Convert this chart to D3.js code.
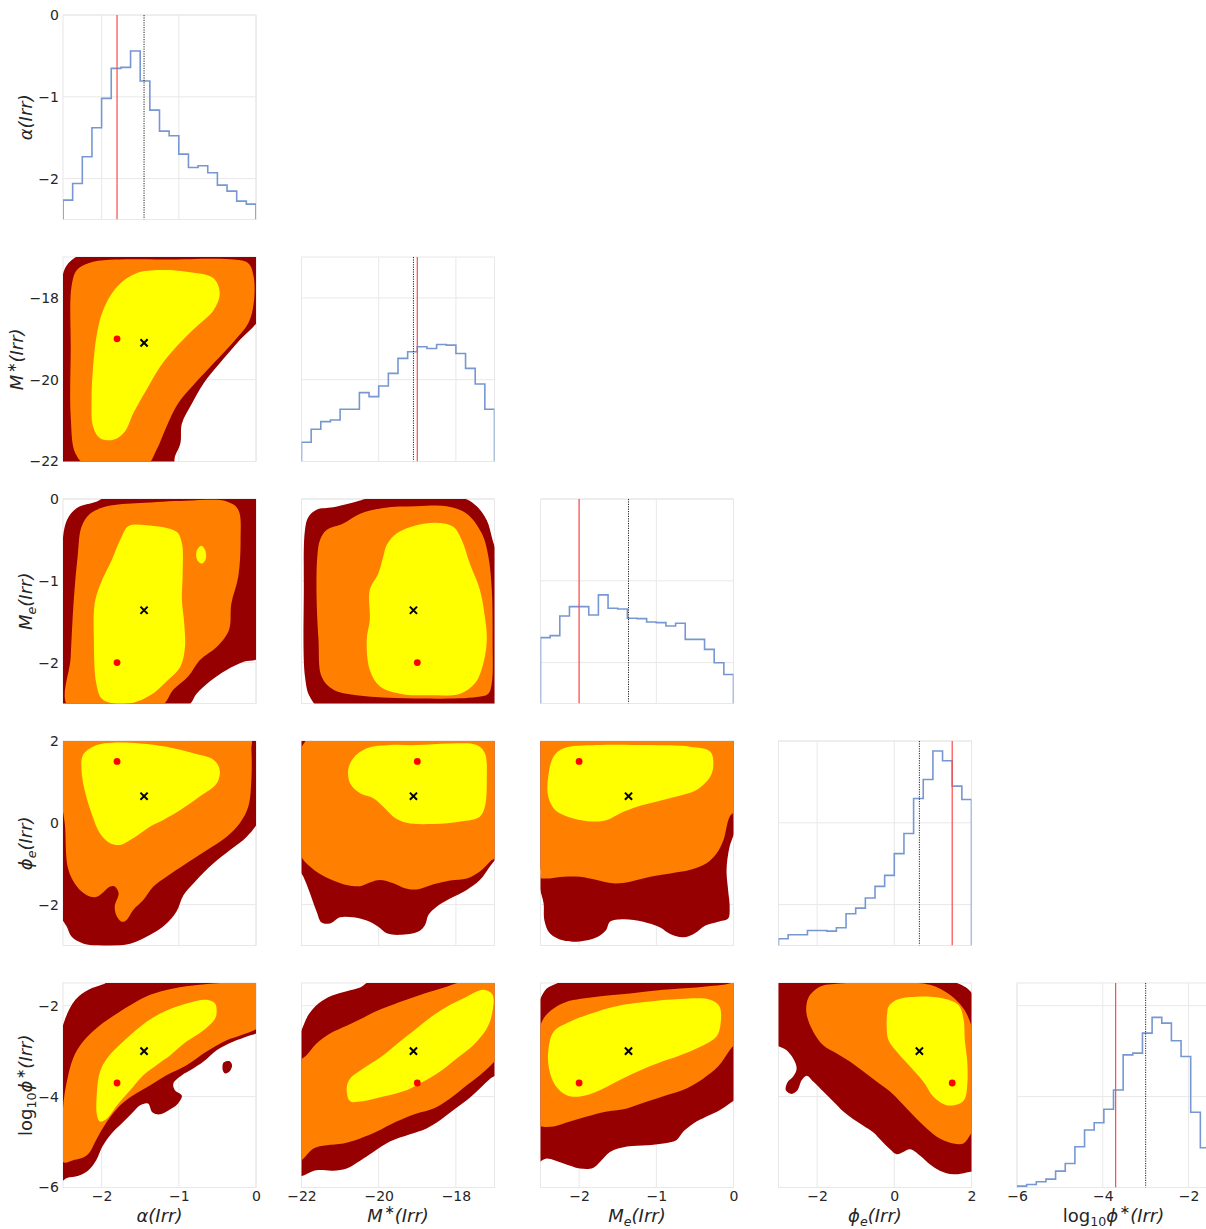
<!DOCTYPE html>
<html><head><meta charset="utf-8">
<script src="https://cdn.jsdelivr.net/npm/d3@7"></script>
<style>body{margin:0;background:#fff;} svg text{font-family:"DejaVu Sans",sans-serif;fill:#262626;}</style>
</head><body><svg id="c" width="1206" height="1229"></svg>
<script>
// ---------------- data ----------------
const params = ["alpha", "Mstar", "Me", "phie", "logphi"];
const domains = [[-2.5, 0], [-22, -17], [-2.5, 0], [-3, 2], [-6, -1.5]];
const ticks = [[-2, -1, 0], [-22, -20, -18], [-2, -1, 0], [-2, 0, 2], [-6, -4, -2]];
const truth = [-1.8, -19.0, -2.0, 1.5, -3.7];
const median = [-1.45, -19.1, -1.36, 0.65, -3.0];

// 1D histograms (20 bins across each axis range)
const hist0 = [58,108,188,275,363,453,456,505,415,328,265,251,196,156,161,140,103,85,55,46];
const hist1 = [58,97,120,125,157,157,207,195,227,265,310,330,345,340,352,350,325,280,233,157];
const hist2 = [197,203,262,290,290,265,325,285,283,255,254,244,242,232,240,192,192,162,122,87];
const hist3 = [20,32,32,45,45,43,53,95,112,142,177,210,275,335,440,497,582,553,477,437];
const hist4 = [4,9,17,25,49,72,122,172,194,234,292,397,402,462,509,492,439,392,225,119];
const histTop = [613, 615, 612, 612, 612];

// 2D credible-region outlines [x, y] in data units: outer (dark red), middle (orange), inner (yellow)
const p10_dark = [[-2.52,-22.21],[-2.52,-17.64],[-2.45,-17.20],[-2.28,-16.95],[-2.02,-16.87],[0.05,-16.87],[0.05,-18.46],[-0.21,-19.03],[-0.47,-19.60],[-0.68,-20.09],[-0.83,-20.58],[-0.96,-21.07],[-0.98,-21.56],[-1.05,-21.88],[-1.09,-22.21]];
const p10_orange = [[-2.39,-17.73],[-2.32,-17.32],[-2.17,-17.15],[-1.89,-17.07],[-1.16,-17.06],[-0.29,-17.06],[-0.10,-17.15],[-0.03,-17.48],[-0.03,-18.13],[-0.10,-18.62],[-0.29,-19.07],[-0.55,-19.60],[-0.81,-20.13],[-1.01,-20.58],[-1.16,-21.15],[-1.29,-21.72],[-1.42,-22.09],[-2.19,-22.09],[-2.34,-21.80],[-2.40,-20.90],[-2.40,-19.27]];
const p10_yellow = [[-1.24,-17.32],[-0.90,-17.36],[-0.55,-17.52],[-0.47,-17.89],[-0.55,-18.30],[-0.77,-18.70],[-1.03,-19.19],[-1.24,-19.68],[-1.42,-20.25],[-1.59,-20.82],[-1.70,-21.27],[-1.85,-21.47],[-2.02,-21.43],[-2.11,-21.15],[-2.13,-20.50],[-2.11,-19.68],[-2.06,-18.87],[-1.98,-18.30],[-1.80,-17.73],[-1.55,-17.40]];

const p20_dark = [[-2.54,-2.58],[-2.52,-0.70],[-2.45,-0.26],[-2.32,-0.11],[-2.06,-0.03],[-1.89,0.05],[0.05,0.05],[0.05,-1.93],[-0.16,-1.99],[-0.38,-2.09],[-0.60,-2.23],[-0.77,-2.38],[-0.90,-2.54]];
const p20_orange = [[-2.43,-2.54],[-2.40,-1.93],[-2.36,-1.23],[-2.31,-0.70],[-2.26,-0.34],[-2.15,-0.18],[-1.93,-0.09],[-1.50,-0.05],[-0.90,-0.02],[-0.38,-0.03],[-0.23,-0.13],[-0.20,-0.50],[-0.23,-0.95],[-0.32,-1.28],[-0.35,-1.60],[-0.51,-1.81],[-0.73,-1.97],[-0.88,-2.17],[-1.07,-2.33],[-1.24,-2.54]];
const p20_yellow = [[-1.65,-0.33],[-1.42,-0.32],[-1.03,-0.40],[-0.96,-0.54],[-0.95,-0.91],[-0.96,-1.23],[-0.93,-1.52],[-0.92,-1.81],[-0.98,-2.05],[-1.16,-2.23],[-1.37,-2.40],[-1.59,-2.49],[-1.85,-2.50],[-2.00,-2.44],[-2.07,-2.25],[-2.10,-1.72],[-2.09,-1.28],[-2.02,-1.05],[-1.87,-0.75],[-1.76,-0.50]];
const p20_yellowIsland = [[-0.71,-0.57],[-0.66,-0.62],[-0.65,-0.73],[-0.70,-0.79],[-0.76,-0.75],[-0.77,-0.64]];

const p21_dark = [[-21.94,-1.11],[-21.91,-0.38],[-21.82,-0.22],[-21.61,-0.13],[-21.18,-0.10],[-20.57,-0.03],[-20.23,0.01],[-17.81,0.01],[-17.46,-0.09],[-17.20,-0.26],[-17.05,-0.50],[-16.94,-0.70],[-16.94,-2.58],[-21.43,-2.58],[-21.78,-2.42],[-21.91,-2.17]];
const p21_orange = [[-21.59,-0.70],[-21.52,-0.50],[-21.35,-0.38],[-20.92,-0.30],[-20.48,-0.18],[-19.88,-0.11],[-19.02,-0.09],[-18.24,-0.09],[-17.72,-0.18],[-17.33,-0.42],[-17.16,-0.70],[-17.07,-1.11],[-17.05,-1.72],[-17.07,-2.25],[-17.16,-2.38],[-17.46,-2.42],[-18.84,-2.44],[-20.57,-2.40],[-21.18,-2.33],[-21.48,-2.17],[-21.56,-1.72],[-21.61,-1.19]];
const p21_yellow = [[-19.79,-0.56],[-19.53,-0.42],[-19.02,-0.32],[-18.50,-0.29],[-18.07,-0.34],[-17.85,-0.50],[-17.64,-0.79],[-17.38,-1.11],[-17.25,-1.44],[-17.20,-1.72],[-17.29,-2.01],[-17.50,-2.25],[-17.89,-2.38],[-18.67,-2.40],[-19.45,-2.38],[-19.97,-2.29],[-20.23,-2.09],[-20.31,-1.72],[-20.23,-1.48],[-20.23,-1.11],[-20.01,-0.91],[-19.88,-0.70]];

const p30_dark = [[-2.56,2.11],[0.05,2.11],[0.05,0.15],[-0.12,-0.34],[-0.34,-0.67],[-0.55,-0.99],[-0.79,-1.44],[-0.94,-1.77],[-1.03,-2.17],[-1.18,-2.50],[-1.37,-2.74],[-1.63,-2.96],[-1.93,-3.01],[-2.24,-2.95],[-2.39,-2.78],[-2.45,-2.54],[-2.52,-2.30],[-2.56,-0.99]];
const p30_orange = [[-2.47,2.11],[-0.08,2.11],[-0.06,1.78],[-0.06,1.05],[-0.10,0.39],[-0.21,-0.01],[-0.38,-0.34],[-0.64,-0.67],[-0.90,-0.99],[-1.16,-1.32],[-1.33,-1.56],[-1.46,-1.89],[-1.59,-2.13],[-1.68,-2.38],[-1.74,-2.42],[-1.80,-2.30],[-1.83,-2.05],[-1.78,-1.72],[-1.83,-1.56],[-1.89,-1.56],[-2.06,-1.81],[-2.19,-1.77],[-2.32,-1.56],[-2.43,-1.15],[-2.47,-0.18]];
const p30_yellow = [[-2.24,1.66],[-2.06,1.90],[-1.85,1.96],[-1.50,1.94],[-1.16,1.86],[-0.81,1.70],[-0.55,1.54],[-0.47,1.29],[-0.51,0.96],[-0.73,0.64],[-0.98,0.31],[-1.20,0.07],[-1.37,-0.09],[-1.50,-0.26],[-1.63,-0.42],[-1.76,-0.54],[-1.89,-0.50],[-2.02,-0.26],[-2.13,0.23],[-2.22,0.80],[-2.26,1.29]];

const p31_dark = [[-22.13,2.11],[-16.86,2.11],[-16.86,-0.67],[-17.12,-1.07],[-17.38,-1.40],[-17.72,-1.64],[-18.15,-1.85],[-18.50,-2.05],[-18.71,-2.25],[-18.80,-2.50],[-18.97,-2.66],[-19.45,-2.74],[-19.79,-2.70],[-20.01,-2.54],[-20.31,-2.39],[-20.66,-2.31],[-21.00,-2.31],[-21.26,-2.46],[-21.48,-2.44],[-21.61,-2.17],[-21.78,-1.72],[-21.95,-1.32],[-22.13,-0.99]];
const p31_orange = [[-21.74,2.11],[-16.90,2.11],[-16.90,-0.75],[-17.12,-0.95],[-17.38,-1.19],[-17.72,-1.36],[-18.15,-1.41],[-18.58,-1.50],[-19.02,-1.63],[-19.32,-1.60],[-19.62,-1.48],[-19.97,-1.40],[-20.23,-1.46],[-20.48,-1.55],[-20.83,-1.52],[-21.18,-1.41],[-21.52,-1.25],[-21.78,-1.07],[-22.00,-0.83],[-22.08,-0.18],[-22.06,1.70],[-21.94,1.94]];
const p31_yellow = [[-20.66,1.58],[-20.31,1.82],[-19.71,1.90],[-19.02,1.90],[-18.15,1.94],[-17.46,1.90],[-17.25,1.70],[-17.20,1.05],[-17.25,0.39],[-17.38,0.15],[-17.89,0.03],[-18.58,-0.03],[-19.28,0.00],[-19.62,0.15],[-19.88,0.39],[-20.14,0.60],[-20.48,0.72],[-20.74,0.96],[-20.79,1.29]];

const p32_dark = [[-2.55,2.11],[0.06,2.11],[0.06,0.48],[0.02,-0.18],[-0.05,-0.58],[-0.09,-1.15],[-0.07,-1.64],[-0.05,-2.05],[-0.07,-2.34],[-0.20,-2.42],[-0.37,-2.52],[-0.50,-2.70],[-0.65,-2.80],[-0.82,-2.72],[-0.95,-2.56],[-1.17,-2.42],[-1.43,-2.36],[-1.60,-2.42],[-1.65,-2.62],[-1.77,-2.80],[-1.99,-2.90],[-2.20,-2.88],[-2.38,-2.70],[-2.45,-2.38],[-2.46,-1.97],[-2.51,-1.56],[-2.50,-1.15],[-2.55,-0.99]];
const p32_orange = [[-2.55,2.11],[0.06,2.11],[0.06,0.39],[-0.05,0.15],[-0.13,-0.42],[-0.22,-0.75],[-0.35,-0.99],[-0.56,-1.15],[-0.82,-1.24],[-1.08,-1.32],[-1.34,-1.44],[-1.56,-1.48],[-1.77,-1.40],[-1.99,-1.32],[-2.20,-1.32],[-2.38,-1.36],[-2.48,-1.36],[-2.55,-1.32]];
const p32_yellow = [[-2.33,1.62],[-2.20,1.82],[-1.77,1.90],[-1.12,1.90],[-0.56,1.86],[-0.30,1.74],[-0.26,1.45],[-0.30,1.13],[-0.48,0.80],[-0.74,0.64],[-0.99,0.52],[-1.25,0.39],[-1.47,0.23],[-1.64,0.07],[-1.82,0.03],[-2.12,0.13],[-2.31,0.31],[-2.40,0.64],[-2.40,1.13]];

const p40_dark = [[-2.54,-5.88],[-2.54,-2.79],[-2.47,-2.28],[-2.34,-1.87],[-2.17,-1.65],[-1.98,-1.53],[-1.85,-1.43],[0.05,-1.43],[0.05,-2.54],[-0.12,-2.68],[-0.29,-2.79],[-0.51,-2.98],[-0.68,-3.23],[-0.83,-3.40],[-0.96,-3.53],[-1.07,-3.71],[-1.05,-3.86],[-0.96,-3.98],[-1.01,-4.15],[-1.11,-4.28],[-1.24,-4.39],[-1.34,-4.35],[-1.40,-4.15],[-1.50,-4.19],[-1.61,-4.37],[-1.74,-4.59],[-1.87,-4.81],[-1.99,-5.10],[-2.07,-5.40],[-2.17,-5.62],[-2.30,-5.74],[-2.45,-5.79]];
const p40_darkIsland = [[-0.42,-3.25],[-0.34,-3.22],[-0.31,-3.31],[-0.34,-3.44],[-0.40,-3.49],[-0.43,-3.42]];
const p40_orange = [[-2.50,-5.44],[-2.50,-4.26],[-2.45,-3.67],[-2.37,-3.16],[-2.24,-2.79],[-2.02,-2.43],[-1.80,-2.17],[-1.59,-1.95],[-1.37,-1.76],[-1.07,-1.62],[-0.73,-1.54],[-0.34,-1.49],[0.05,-1.49],[0.05,-2.43],[-0.16,-2.63],[-0.38,-2.76],[-0.64,-3.01],[-0.90,-3.31],[-1.16,-3.53],[-1.37,-3.75],[-1.59,-3.97],[-1.76,-4.19],[-1.93,-4.55],[-2.06,-4.92],[-2.19,-5.29],[-2.37,-5.40]];
const p40_yellow = [[-0.53,-1.95],[-0.51,-2.13],[-0.53,-2.28],[-0.68,-2.54],[-0.90,-2.79],[-1.11,-3.09],[-1.29,-3.31],[-1.46,-3.53],[-1.63,-3.86],[-1.80,-4.19],[-1.93,-4.48],[-2.02,-4.55],[-2.06,-4.41],[-2.06,-3.89],[-2.02,-3.45],[-1.93,-3.16],[-1.72,-2.79],[-1.50,-2.46],[-1.24,-2.17],[-0.90,-1.95],[-0.64,-1.87]];

const p41_dark = [[-22.13,-5.73],[-22.13,-2.79],[-22.00,-2.54],[-21.82,-2.20],[-21.56,-1.95],[-21.22,-1.78],[-20.83,-1.68],[-20.48,-1.60],[-20.23,-1.47],[-16.86,-1.47],[-16.86,-3.45],[-17.12,-3.61],[-17.38,-3.82],[-17.72,-4.08],[-18.07,-4.30],[-18.41,-4.52],[-18.76,-4.70],[-19.19,-4.83],[-19.71,-4.99],[-20.14,-5.22],[-20.48,-5.41],[-20.83,-5.58],[-21.18,-5.63],[-21.61,-5.62]];
const p41_orange = [[-22.08,-5.44],[-22.08,-3.27],[-21.87,-3.09],[-21.61,-2.83],[-21.26,-2.61],[-20.83,-2.44],[-20.48,-2.30],[-20.14,-2.15],[-19.71,-2.00],[-19.19,-1.84],[-18.67,-1.69],[-18.24,-1.58],[-17.81,-1.47],[-16.86,-1.47],[-16.86,-3.05],[-17.07,-3.29],[-17.38,-3.53],[-17.72,-3.75],[-18.15,-4.04],[-18.58,-4.26],[-19.02,-4.37],[-19.54,-4.55],[-20.05,-4.77],[-20.48,-4.92],[-20.92,-5.03],[-21.35,-5.07],[-21.69,-5.14],[-21.95,-5.36]];
const p41_yellow = [[-20.83,-3.82],[-20.74,-3.60],[-20.40,-3.38],[-19.88,-3.09],[-19.45,-2.79],[-19.02,-2.50],[-18.58,-2.21],[-18.15,-1.98],[-17.72,-1.80],[-17.29,-1.65],[-17.05,-1.76],[-17.07,-2.20],[-17.20,-2.50],[-17.55,-2.87],[-17.98,-3.16],[-18.41,-3.45],[-18.84,-3.67],[-19.28,-3.86],[-19.88,-4.00],[-20.48,-4.11],[-20.74,-4.10]];

const p42_dark = [[-2.55,-5.44],[-2.55,-2.06],[-2.50,-1.84],[-2.42,-1.62],[-2.29,-1.51],[-2.20,-1.43],[0.06,-1.43],[0.06,-3.97],[-0.05,-4.15],[-0.18,-4.30],[-0.35,-4.44],[-0.52,-4.59],[-0.65,-4.77],[-0.74,-4.96],[-0.91,-5.03],[-1.12,-5.07],[-1.38,-5.10],[-1.60,-5.22],[-1.73,-5.44],[-1.82,-5.57],[-1.99,-5.58],[-2.20,-5.47],[-2.42,-5.36]];
const p42_orange = [[-2.55,-4.63],[-2.55,-2.79],[-2.46,-2.28],[-2.33,-2.06],[-2.16,-1.91],[-1.77,-1.80],[-1.34,-1.73],[-0.91,-1.65],[-0.48,-1.60],[-0.13,-1.54],[0.06,-1.51],[0.06,-2.72],[-0.05,-2.98],[-0.20,-3.34],[-0.39,-3.60],[-0.61,-3.82],[-0.87,-3.97],[-1.12,-4.11],[-1.38,-4.26],[-1.64,-4.33],[-1.90,-4.44],[-2.12,-4.55],[-2.33,-4.66],[-2.50,-4.66]];
const p42_yellow = [[-2.40,-3.01],[-2.33,-2.57],[-2.12,-2.35],[-1.77,-2.13],[-1.43,-1.98],[-1.12,-1.91],[-0.69,-1.85],[-0.30,-1.87],[-0.18,-2.02],[-0.17,-2.43],[-0.22,-2.68],[-0.39,-2.87],[-0.69,-3.09],[-0.99,-3.27],[-1.30,-3.49],[-1.56,-3.71],[-1.77,-3.89],[-1.99,-4.00],[-2.16,-3.97],[-2.31,-3.75],[-2.39,-3.38]];

const p43_dark = [[-3.13,-1.47],[1.53,-1.47],[2.14,-1.91],[2.14,-5.58],[1.87,-5.67],[1.53,-5.71],[1.18,-5.63],[0.92,-5.49],[0.67,-5.30],[0.41,-5.16],[0.23,-5.22],[0.06,-5.27],[-0.11,-5.16],[-0.37,-4.94],[-0.54,-4.79],[-0.80,-4.64],[-1.06,-4.50],[-1.32,-4.33],[-1.58,-4.11],[-1.84,-3.89],[-2.10,-3.67],[-2.27,-3.54],[-2.40,-3.64],[-2.51,-3.86],[-2.66,-3.94],[-2.81,-3.86],[-2.77,-3.69],[-2.62,-3.56],[-2.53,-3.38],[-2.62,-3.16],[-2.79,-2.98],[-3.13,-2.79]];
const p43_orange = [[-2.18,-1.76],[-1.93,-1.58],[-1.41,-1.51],[0.06,-1.49],[0.92,-1.54],[1.44,-1.76],[1.79,-2.06],[1.96,-2.35],[2.09,-2.79],[2.09,-4.63],[1.96,-4.85],[1.79,-5.03],[1.53,-5.03],[1.18,-4.92],[0.84,-4.70],[0.49,-4.41],[0.15,-4.11],[-0.11,-3.89],[-0.46,-3.67],[-0.80,-3.45],[-1.15,-3.23],[-1.49,-3.05],[-1.84,-2.87],[-2.10,-2.57],[-2.27,-2.20],[-2.27,-1.95]];
const p43_yellow = [[-0.15,-2.02],[0.06,-1.87],[0.58,-1.80],[1.27,-1.84],[1.66,-1.98],[1.79,-2.28],[1.83,-2.79],[1.89,-3.23],[1.89,-3.75],[1.83,-4.04],[1.70,-4.15],[1.35,-4.19],[1.01,-4.00],[0.75,-3.67],[0.41,-3.34],[0.06,-3.01],[-0.15,-2.76],[-0.20,-2.43],[-0.18,-2.13]];

const axisLabels = [
  [{t:"α(Irr)", it:true}],
  [{t:"M", it:true}, {t:"∗", sup:true}, {t:"(Irr)", it:true}],
  [{t:"M", it:true}, {t:"e", sub:true, it:true}, {t:"(Irr)", it:true}],
  [{t:"ϕ", it:true}, {t:"e", sub:true, it:true}, {t:"(Irr)", it:true}],
  [{t:"log"}, {t:"10", sub:true}, {t:"ϕ", it:true}, {t:"∗", sup:true}, {t:"(Irr)", it:true}]
];

// ---------------- layout / drawing ----------------
const hists = [hist0, hist1, hist2, hist3, hist4];
const contourSets = {
  "1,0": [[p10_dark,0],[p10_orange,1],[p10_yellow,2]],
  "2,0": [[p20_dark,0],[p20_orange,1],[p20_yellow,2],[p20_yellowIsland,2]],
  "2,1": [[p21_dark,0],[p21_orange,1],[p21_yellow,2]],
  "3,0": [[p30_dark,0],[p30_orange,1],[p30_yellow,2]],
  "3,1": [[p31_dark,0],[p31_orange,1],[p31_yellow,2]],
  "3,2": [[p32_dark,0],[p32_orange,1],[p32_yellow,2]],
  "4,0": [[p40_dark,0],[p40_darkIsland,0],[p40_orange,1],[p40_yellow,2]],
  "4,1": [[p41_dark,0],[p41_orange,1],[p41_yellow,2]],
  "4,2": [[p42_dark,0],[p42_orange,1],[p42_yellow,2]],
  "4,3": [[p43_dark,0],[p43_orange,1],[p43_yellow,2]]
};
const fills = ["#970000", "#ff8000", "#ffff00"];

const colLeft = [63, 301.5, 540.5, 778.5, 1017], rowTop = [15, 257, 499, 741, 983];
const W = 193, H = 204.5;
const N = params.length;
const xs = domains.map((d, j) => d3.scaleLinear().domain(d).range([colLeft[j], colLeft[j] + W]));
const ys = domains.map((d, i) => d3.scaleLinear().domain(d).range([rowTop[i] + H, rowTop[i]]));

const svg = d3.select("#c");
svg.append("rect").attr("width", 1206).attr("height", 1229).attr("fill", "#fff");
const defs = svg.append("defs");
const gridColor = "#e8e8e8";

for (let i = 0; i < N; i++) {
  for (let j = 0; j <= i; j++) {
    const x = xs[j], y = ys[i];
    const id = `clip${i}${j}`;
    defs.append("clipPath").attr("id", id).append("rect")
      .attr("x", colLeft[j]).attr("y", rowTop[i]).attr("width", W).attr("height", H);
    const g = svg.append("g");
    g.selectAll(".gv").data(ticks[j]).join("line")
      .attr("x1", d => x(d)).attr("x2", d => x(d)).attr("y1", rowTop[i]).attr("y2", rowTop[i] + H)
      .attr("stroke", gridColor).attr("stroke-width", 1);
    g.selectAll(".gh").data(ticks[i]).join("line")
      .attr("y1", d => y(d)).attr("y2", d => y(d)).attr("x1", colLeft[j]).attr("x2", colLeft[j] + W)
      .attr("stroke", gridColor).attr("stroke-width", 1);
    g.append("rect").attr("x", colLeft[j]).attr("y", rowTop[i]).attr("width", W).attr("height", H)
      .attr("fill", "none").attr("stroke", gridColor).attr("stroke-width", 1);
    const c = g.append("g").attr("clip-path", `url(#${id})`);

    if (i === j) {
      const h = hists[i];
      const hy = d3.scaleLinear().domain([0, histTop[i]]).range([rowTop[i] + H, rowTop[i]]);
      const edges = d3.range(h.length + 1).map(k => domains[i][0] + k * (domains[i][1] - domains[i][0]) / h.length);
      const pts = [[edges[0], 0]];
      h.forEach((v, k) => { pts.push([edges[k], v]); pts.push([edges[k + 1], v]); });
      pts.push([edges[h.length], 0]);
      c.append("path").attr("d", d3.line().x(d => x(d[0])).y(d => hy(d[1]))(pts))
        .attr("fill", "none").attr("stroke", "#7797d2").attr("stroke-width", 1.6);
      c.append("line").attr("x1", x(truth[i])).attr("x2", x(truth[i]))
        .attr("y1", rowTop[i]).attr("y2", rowTop[i] + H)
        .attr("stroke", "#ff4a4a").attr("stroke-width", 1.2);
      c.append("line").attr("x1", x(median[i])).attr("x2", x(median[i]))
        .attr("y1", rowTop[i]).attr("y2", rowTop[i] + H)
        .attr("stroke", "#222").attr("stroke-width", 1).attr("stroke-dasharray", "1.2,1.2");
    } else {
      const line = d3.line().x(d => x(d[0])).y(d => y(d[1])).curve(d3.curveCatmullRomClosed.alpha(0.5));
      contourSets[`${i},${j}`].forEach(([poly, lvl]) => {
        c.append("path").attr("d", line(poly)).attr("fill", fills[lvl]).attr("stroke", "none");
      });
      c.append("circle").attr("cx", x(truth[j])).attr("cy", y(truth[i])).attr("r", 3.4).attr("fill", "#ff0000");
      const mx = x(median[j]), my = y(median[i]), s = 3.6;
      c.append("path").attr("d", `M${mx - s},${my - s}L${mx + s},${my + s}M${mx - s},${my + s}L${mx + s},${my - s}`)
        .attr("stroke", "#000").attr("stroke-width", 2);
    }
  }
}

// axes (tick labels only)
const tickFont = 14;
const fmt = d3.format("d");
const rowTickLeft = [];
for (let i = 0; i < N; i++) {
  const ga = svg.append("g").attr("transform", `translate(${colLeft[0]},0)`)
    .call(d3.axisLeft(ys[i]).tickValues(ticks[i]).tickFormat(fmt).tickSize(0).tickPadding(4));
  ga.select(".domain").remove();
  ga.selectAll("text").attr("font-size", tickFont).attr("font-family", "DejaVu Sans").attr("fill", "#333");
  const bb = ga.node().getBBox();
  rowTickLeft.push(colLeft[0] + bb.x);
}
for (let j = 0; j < N; j++) {
  const ga = svg.append("g").attr("transform", `translate(0,${rowTop[N - 1] + H})`)
    .call(d3.axisBottom(xs[j]).tickValues(ticks[j]).tickFormat(fmt).tickSize(0).tickPadding(4));
  ga.select(".domain").remove();
  ga.selectAll("text").attr("font-size", tickFont).attr("font-family", "DejaVu Sans").attr("fill", "#333");
}

// axis labels
const labFont = 18;
function writeLabel(sel, parts) {
  let shift = 0;
  parts.forEach(p => {
    const target = p.sub ? 0.22 * labFont : p.sup ? -0.42 * labFont : 0;
    sel.append("tspan").text(p.t)
      .attr("dy", target - shift)
      .attr("dx", p.sup ? 1.5 : 0)
      .attr("font-size", (p.sub || p.sup) ? labFont * 0.7 : labFont)
      .attr("font-style", p.it ? "italic" : "normal");
    shift = target;
  });
}
for (let j = 0; j < N; j++) {
  const t = svg.append("text").attr("x", colLeft[j] + W / 2).attr("y", 1222)
    .attr("text-anchor", "middle").attr("font-size", labFont);
  writeLabel(t, axisLabels[j]);
}
for (let i = 0; i < N; i++) {
  const cy = rowTop[i] + H / 2;
  const t = svg.append("text").attr("transform", `translate(${rowTickLeft[i] - 6},${cy}) rotate(-90)`)
    .attr("text-anchor", "middle").attr("font-size", labFont);
  writeLabel(t, axisLabels[i]);
}
</script></body></html>
